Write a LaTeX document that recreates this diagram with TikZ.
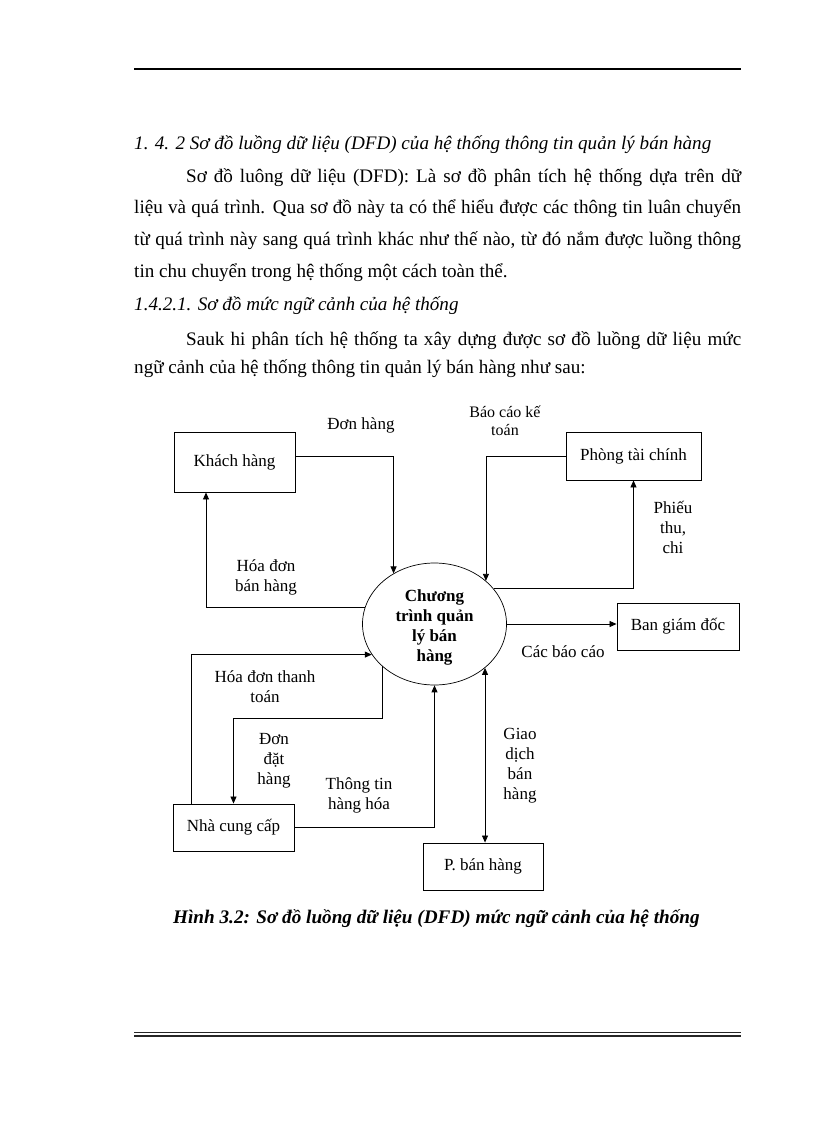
\documentclass[tikz,border=0pt]{standalone}
\usepackage{fontspec}
\setmainfont{Liberation Serif}
\usetikzlibrary{arrows.meta,shapes.geometric}
\newcommand{\bodyfont}{\fontsize{19.1}{22}\selectfont}
\newcommand{\diagfont}{\fontsize{17}{20}\selectfont}
\begin{document}
\begin{tikzpicture}[x=1pt,y=-1pt,
  txt/.style={anchor=base west,inner sep=0,font=\bodyfont},
  entity/.style={draw,line width=0.9pt,inner sep=0,font=\diagfont},
  lab/.style={align=center,inner sep=0,font=\diagfont},
  flow/.style={-{Triangle[length=7pt,width=6pt]},line width=0.8pt},
  both/.style={{Triangle[length=7pt,width=6pt]}-{Triangle[length=7pt,width=6pt]},line width=0.8pt}]
\useasboundingbox (0,0) rectangle (816,1123);
\fill[white] (0,0) rectangle (816,1123);
% rules
\draw[line width=2pt] (134,69) coordinate (rt1) -- (741,69) coordinate (rt2);
\draw[line width=1.2pt,black!85] (134,1032.5) coordinate (rb1) -- (741,1032.5) coordinate (rb2);
\draw[line width=1.5pt,black!85] (134,1036) coordinate (rb3) -- (741,1036) coordinate (rb4);
% text
\node[txt,font=\bodyfont\itshape] (h1) at (134,150) {1. 4. 2 Sơ đồ luồng dữ liệu (DFD) của hệ thống thông tin quản lý bán hàng};
\node[txt] (l2) at (186,183) {\makebox[555pt][s]{Sơ đồ luông dữ liệu (DFD): Là sơ đồ phân tích hệ thống dựa trên dữ}};
\node[txt] (l3) at (134,214) {\makebox[607pt][s]{liệu và quá trình. Qua sơ đồ này ta có thể hiểu được các thông tin luân chuyển}};
\node[txt] (l4) at (134,245) {\makebox[607pt][s]{từ quá trình này sang quá trình khác như thế nào, từ đó nắm được luồng thông}};
\node[txt] (l5) at (134,277) {tin chu chuyển trong hệ thống một cách toàn thể.};
\node[txt,font=\bodyfont\itshape] (h2) at (134,310) {1.4.2.1. Sơ đồ mức ngữ cảnh của hệ thống};
\node[txt] (l7) at (186,345) {\makebox[555pt][s]{Sauk hi phân tích hệ thống ta xây dựng được sơ đồ luồng dữ liệu mức}};
\node[txt] (l8) at (134,373) {ngữ cảnh của hệ thống thông tin quản lý bán hàng như sau:};
% entities
\node[entity,minimum width=121pt,minimum height=60pt] (kh) at (234.5,462) {Khách hàng};
\node[entity,minimum width=135pt,minimum height=48pt] (tc) at (633.5,456) {Phòng tài chính};
\node[entity,minimum width=122pt,minimum height=47pt] (bgd) at (678,626.5) {Ban giám đốc};
\node[entity,minimum width=120pt,minimum height=47pt] (pbh) at (483,866.5) {P. bán hàng};
\node[entity,minimum width=121pt,minimum height=47pt] (ncc) at (233.5,827.5) {Nhà cung cấp};
\node[draw,ellipse,line width=0.7pt,minimum width=144pt,minimum height=122pt,inner sep=0] (ct) at (434.5,624) {};
\node[lab,font=\diagfont\bfseries] (ctl) at (434.5,627) {Chương\\trình quản\\lý bán\\hàng};
% flows
\draw[flow] ([yshift=6pt]kh.east) -| (ct.129.7);
\draw[flow] (ct.167.9) -| ([xshift=-28.5pt]kh.south);
\draw[flow] (tc.west) -| (ct.40.7);
\draw[flow] (ct.31.8) -| (tc.south);
\draw[flow] (ct.east) -- (ct.east -| bgd.west);
\draw[flow] ([xshift=-42.5pt]ncc.north) |- (ct.206.6);
\draw[flow] (ct.219.6) -- ++(0,52) -| (ncc.north);
\draw[flow] (ncc.east) -| (ct.south);
\draw[both] (ct.319.3) -- (ct.319.3 |- pbh.north);
% labels
\node[lab] (ldh) at (361,425) {Đơn hàng};
\node[lab] (lhd) at (266,577) {Hóa đơn\\bán hàng};
\node[lab,font=\fontsize{16}{18}\selectfont] (lbc) at (505,421) {Báo cáo kế\\toán};
\node[lab] (lpt) at (673,527) {Phiếu\\thu,\\chi};
\node[lab] (lcb) at (563,652) {Các báo cáo};
\node[lab] (lgd) at (520,766) {Giao\\dịch\\bán\\hàng};
\node[lab] (lhtt) at (265,687) {Hóa đơn thanh\\toán};
\node[lab] (ldd) at (274,761) {Đơn\\đặt\\hàng};
\node[lab] (ltt) at (359,795) {Thông tin\\hàng hóa};
% caption
\node[anchor=base west,inner sep=0,font=\fontsize{19.2}{22}\selectfont\bfseries\itshape] (cap) at (173,923) {Hình 3.2: Sơ đồ luồng dữ liệu (DFD) mức ngữ cảnh của hệ thống};
\end{tikzpicture}
\end{document}
